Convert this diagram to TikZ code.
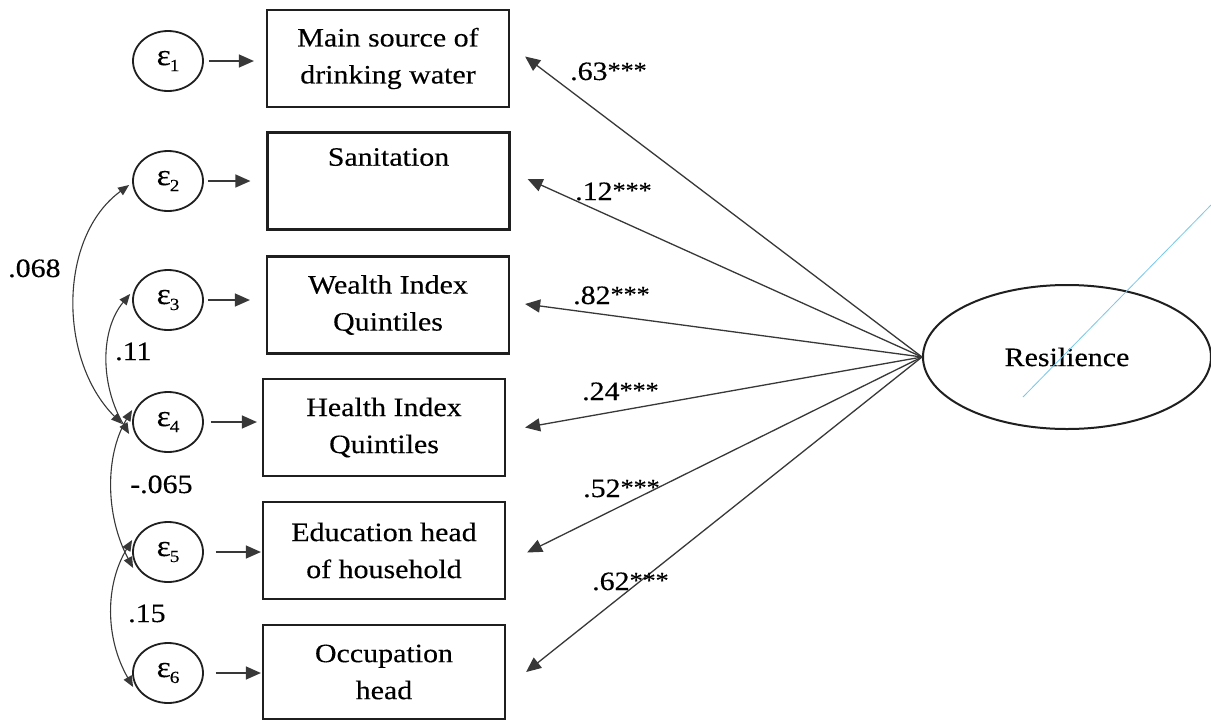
\documentclass[tikz,border=0pt]{standalone}
\usepackage{fontspec}
\setmainfont{Liberation Serif}[FakeStretch=1.13,FakeBold=0.3]
\usetikzlibrary{arrows.meta,shapes.geometric}
\newcommand\myfs{\fontsize{26.5}{37}\selectfont}
\newcommand\eps[1]{\fontsize{30}{30}\selectfont ε\kern-1pt\raisebox{-6pt}{\fontsize{17}{17}\selectfont #1}}
\newcommand\stars{\raisebox{2pt}{\fontsize{23}{23}\selectfont ***}}
\begin{document}
\begin{tikzpicture}[x=1pt,y=-1pt,
  obs/.style={draw=black!88, line width=2.2pt, minimum width=242pt, minimum height=97pt, align=center, font=\myfs, inner sep=0pt},
  err/.style={ellipse, draw=black!88, line width=1.8pt, minimum width=70pt, minimum height=60pt, inner sep=0pt},
  lat/.style={ellipse, draw=black!88, line width=2pt, minimum width=288pt, minimum height=144pt, font=\myfs},
  arr/.style={-{Triangle[length=15pt,width=13pt]}, draw=black!78, line width=1.3pt},
  cov/.style={{Triangle[length=11pt,width=9pt]}-{Triangle[length=11pt,width=9pt]}, draw=black!78, line width=1.1pt},
  lbl/.style={anchor=base west, font=\myfs, inner sep=0pt}]
\useasboundingbox (0,0) rectangle (1211,721);
\fill[white] (0,0) rectangle (1211,721);

% observed boxes
\node[obs] (b1) at (388,58.5) {Main source of\\drinking water};
\node[obs] (b2) at (388.5,181) {Sanitation\\\strut};
\node[obs] (b3) at (388,305) {Wealth Index\\Quintiles};
\node[obs] (b4) at (384,427.5) {Health Index\\Quintiles};
\node[obs] (b5) at (384,550.5) {Education head\\of household};
\node[obs, minimum height=94pt] (b6) at (384,672) {Occupation\\head};

% error terms
\node[err] (e1) at (168,61) {\eps{1}};
\node[err] (e2) at (168,181) {\eps{2}};
\node[err] (e3) at (168,300) {\eps{3}};
\node[err] (e4) at (168,422) {\eps{4}};
\node[err] (e5) at (168,552) {\eps{5}};
\node[err] (e6) at (168,673) {\eps{6}};

% latent
\node[lat] (R) at (1067,357) {Resilience};

% error arrows
\draw[arr] ([xshift=5pt]e1.east) -- ([xshift=-12pt]e1.east -| b1.west);
\draw[arr] ([xshift=4pt]e2.east) -- ([xshift=-16pt]e2.east -| b2.west);
\draw[arr] ([xshift=4pt]e3.east) -- ([xshift=-16pt]e3.east -| b3.west);
\draw[arr] ([xshift=7pt]e4.east) -- ([xshift=-5pt]e4.east -| b4.west);
\draw[arr] ([xshift=12pt]e5.east) -- ([xshift=-1pt]e5.east -| b5.west);
\draw[arr] ([xshift=12pt]e6.east) -- ([xshift=-1pt]e6.east -| b6.west);

% loadings
\draw[arr] (R.west) -- ([xshift=15pt,yshift=2pt]b1.east);
\draw[arr] (R.west) -- ([xshift=17pt,yshift=2pt]b2.east);
\draw[arr] (R.west) -- ([xshift=15pt,yshift=1pt]b3.east);
\draw[arr] (R.west) -- ([xshift=19pt]b4.east);
\draw[arr] (R.west) -- ([xshift=21pt,yshift=-2pt]b5.east);
\draw[arr] (R.west) -- ([xshift=20pt]b6.east);

\node[lbl] (l1) at (570,80) {.63\stars};
\node[lbl] (l2) at (575,200) {.12\stars};
\node[lbl] (l3) at (573,304) {.82\stars};
\node[lbl] (l4) at (582,400) {.24\stars};
\node[lbl] (l5) at (583,497) {.52\stars};
\node[lbl] (l6) at (592,590) {.62\stars};

% covariances
\draw[cov] ([shift={(-3pt,-4pt)}]e2.west) .. controls (58,237) and (58,360) .. ([shift={(-10pt,-2pt)}]e4.west);
\draw[cov] ([shift={(-2pt,6pt)}]e3.west) .. controls (100,330) and (100,385) .. ([shift={(-3pt,-12pt)}]e4.west);
\draw[cov] ([shift={(0pt,12pt)}]e4.west) .. controls (105,455) and (105,515) .. ([shift={(1pt,-16pt)}]e5.west);
\draw[cov] ([shift={(0pt,12pt)}]e5.west) .. controls (105,585) and (105,638) .. ([shift={(1pt,-14pt)}]e6.west);

\node[lbl] (c1) at (8,277) {.068};
\node[lbl] (c2) at (115,360) {.11};
\node[lbl] (c3) at (130,493) {-.065};
\node[lbl] (c4) at (128,622) {.15};

% stray light-blue line
\draw[color={rgb,255:red,120;green,200;blue,235}, line width=0.8pt] (1023,397) -- (1211,205);
\end{tikzpicture}
\end{document}
